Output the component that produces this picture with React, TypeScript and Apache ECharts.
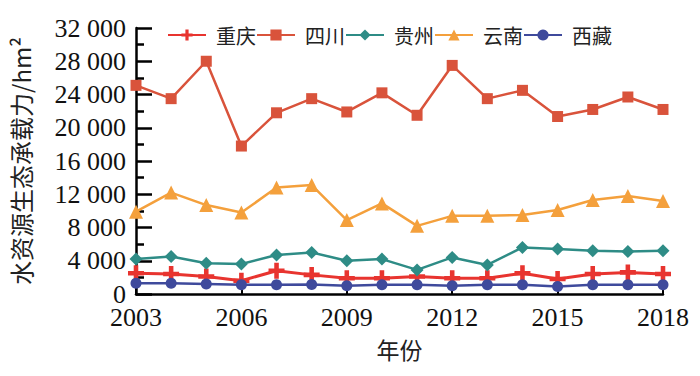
import React, { useEffect, useRef } from "react";
import * as echarts from "echarts";

const years = ["2003","2004","2005","2006","2007","2008","2009","2010","2011","2012","2013","2014","2015","2016","2017","2018"];
const chongqing = [2500, 2400, 2100, 1600, 2800, 2300, 1900, 1900, 2100, 1900, 1900, 2500, 1800, 2400, 2600, 2400];
const sichuan = [25100, 23500, 28000, 17800, 21800, 23500, 21900, 24200, 21500, 27500, 23500, 24500, 21350, 22200, 23700, 22200];
const guizhou = [4200, 4500, 3700, 3600, 4700, 5000, 4000, 4200, 2900, 4400, 3500, 5600, 5400, 5200, 5100, 5200];
const yunnan = [9900, 12200, 10700, 9800, 12800, 13100, 8900, 10900, 8200, 9400, 9400, 9500, 10100, 11300, 11800, 11200];
const xizang = [1300, 1300, 1200, 1100, 1100, 1150, 1000, 1100, 1100, 1000, 1100, 1100, 900, 1100, 1100, 1100];

const seriesNames = ["重庆", "四川", "贵州", "云南", "西藏"];
const seriesColors = ["#E8342F", "#D9533B", "#2E8C86", "#F4A03C", "#3F4A9C"];

const plusPath = "path://M5,0 H9 V5 H14 V9 H9 V14 H5 V9 H0 V5 H5 Z";

export default function App() {
  const ref = useRef<HTMLDivElement>(null);
  useEffect(() => {
    if (!ref.current) return;
    const chart = echarts.init(ref.current, undefined, { renderer: "svg" });
    const serif = "Liberation Serif";
    const cjk = "Noto Sans CJK SC";
    const dataArr = [chongqing, sichuan, guizhou, yunnan, xizang];
    const symbols = [plusPath, "rect", "diamond", "triangle", "circle"];
    const sizes = [16, 11, 13, 14, 11];
    const numStyle = { fontSize: 26, fontFamily: serif, color: "#111" };
    chart.setOption({
      animation: false,
      backgroundColor: "#ffffff",
      grid: { left: 128, right: 37, top: 28, bottom: 82 },
      legend: {
        left: 167,
        top: 25,
        itemWidth: 38,
        itemHeight: 14,
        itemGap: 0,
        padding: 0,
        data: seriesNames,
        textStyle: { fontSize: 20, fontFamily: cjk, color: "#222", padding: [0, 0, 0, 5] },
      },
      xAxis: {
        type: "category",
        data: years,
        boundaryGap: false,
        name: "年份",
        nameLocation: "middle",
        nameGap: 43,
        nameTextStyle: { fontSize: 23, fontFamily: cjk, color: "#222" },
        axisLine: { lineStyle: { color: "#000", width: 2.5 } },
        axisTick: { inside: true, length: 8, interval: 2, lineStyle: { color: "#000", width: 2 } },
        axisLabel: Object.assign({ interval: 2, margin: 10, textStyle: numStyle }, numStyle),
        splitLine: { show: false },
      },
      yAxis: {
        type: "value",
        min: 0,
        max: 32000,
        interval: 4000,
        name: "水资源生态承载力/hm²",
        nameLocation: "middle",
        nameRotate: 90,
        nameGap: 104,
        nameTextStyle: { fontSize: 24, fontFamily: cjk, color: "#222" },
        axisLine: { show: true, lineStyle: { color: "#000", width: 2.5 } },
        axisTick: { show: true, inside: true, length: 16, lineStyle: { color: "#000", width: 2.5 } },
        minorTick: { show: true, splitNumber: 2, length: 8, lineStyle: { color: "#000", width: 2.5 } },
        axisLabel: Object.assign(
          {
            margin: 10,
            textStyle: numStyle,
            formatter: (v: number) => {
              const s = String(Math.round(v));
              return s.length > 3 ? s.slice(0, s.length - 3) + " " + s.slice(-3) : s;
            },
          },
          numStyle
        ),
        splitLine: { show: false },
      },
      series: seriesNames.map((n, i) => ({
        name: n,
        type: "line",
        data: dataArr[i],
        symbol: symbols[i],
        symbolSize: sizes[i],
        showSymbol: true,
        color: seriesColors[i],
        lineStyle: { width: i === 0 ? 3 : 2.5, color: seriesColors[i] },
        itemStyle: { color: seriesColors[i] },
      })),
    });
    // Ensure axis label texts keep the serif font after layout
    const svg = ref.current.querySelector("svg");
    if (svg) {
      svg.querySelectorAll("text").forEach((t) => {
        const s = t.textContent || "";
        if (/^[0-9 ]+$/.test(s)) {
          (t as SVGTextElement).style.fontFamily = "'Liberation Serif', serif";
        }
      });
    }
    return () => chart.dispose();
  }, []);
  return <div ref={ref} style={{ position: "absolute", left: 0, top: 0, width: 700, height: 376 }} />;
}
